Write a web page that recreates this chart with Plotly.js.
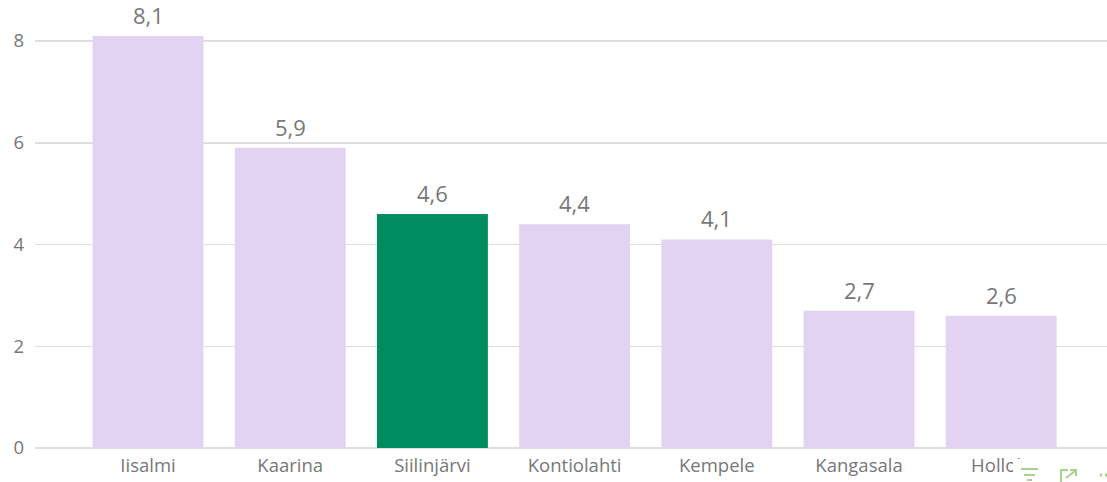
<!DOCTYPE html>
<html><head><meta charset="utf-8">
<script src="https://cdn.plot.ly/plotly-3.0.0.min.js"></script>
<style>html,body{margin:0;padding:0;background:#fff}#c{width:1107px;height:482px}</style></head>
<body><div id="c"></div>
<script>
const categories = ["Iisalmi","Kaarina","Siilinjärvi","Kontiolahti","Kempele","Kangasala","Hollola"];
const values = [8.1,5.9,4.6,4.4,4.1,2.7,2.6];
const barColors = ["#E3D3F3","#E3D3F3","#008C5F","#E3D3F3","#E3D3F3","#E3D3F3","#E3D3F3"];
const yTicks = [0,2,4,6,8];
const font = "'Open Sans', sans-serif";
const icon = "#A9D18E";
const px = v => (v-35)/1072;
const py = v => (448-v)/448;
Plotly.newPlot("c",[{
  type:"bar",x:categories,y:values,width:0.78,
  marker:{color:barColors,line:{width:0}},
  hoverinfo:"none"
}],{
  width:1107,height:482,
  margin:{l:35,r:0,t:0,b:34,pad:0},
  paper_bgcolor:"#fff",plot_bgcolor:"#fff",
  showlegend:false,
  xaxis:{type:"category",range:[-0.795,6.744],showgrid:false,zeroline:false,showline:false,
    ticks:"",ticklabelstandoff:4,tickfont:{family:font,size:18.5,color:"#777777"}},
  yaxis:{range:[0,8.806],tickvals:yTicks,ticktext:yTicks.map(String),showgrid:true,gridcolor:"#DEDEDE",gridwidth:1.5,
    zeroline:true,zerolinecolor:"#DEDEDE",zerolinewidth:1.5,showline:false,ticks:"",ticklabelstandoff:10,
    tickfont:{family:font,size:18.5,color:"#777777"}},
  annotations:categories.map((c,i)=>({
    x:c,y:values[i],xref:"x",yref:"y",showarrow:false,yanchor:"bottom",yshift:4,
    text:values[i].toFixed(1).replace(".",","),
    font:{family:font,size:22,color:"#777777"}
  })),
  shapes:[
    {type:"rect",xref:"paper",yref:"paper",x0:px(1013),x1:px(1050),y0:py(482),y1:py(459),fillcolor:"#fff",line:{width:0},layer:"above"},
    {type:"line",xref:"paper",yref:"paper",x0:px(1021),x1:px(1038),y0:py(469),y1:py(469),line:{color:icon,width:2},layer:"above"},
    {type:"line",xref:"paper",yref:"paper",x0:px(1024),x1:px(1035),y0:py(475),y1:py(475),line:{color:icon,width:2},layer:"above"},
    {type:"line",xref:"paper",yref:"paper",x0:px(1027),x1:px(1032),y0:py(480),y1:py(480),line:{color:icon,width:2},layer:"above"},
    {type:"path",xref:"paper",yref:"paper",path:`M ${px(1061)} ${py(482)} L ${px(1061)} ${py(470)} L ${px(1068)} ${py(470)} M ${px(1066)} ${py(478)} L ${px(1075)} ${py(471)} M ${px(1070)} ${py(470)} L ${px(1076)} ${py(470)} L ${px(1076)} ${py(476)}`,line:{color:icon,width:2},layer:"above"},
    {type:"line",xref:"paper",yref:"paper",x0:px(1100),x1:px(1102),y0:py(475),y1:py(475),line:{color:icon,width:3},layer:"above"},
    {type:"line",xref:"paper",yref:"paper",x0:px(1105),x1:px(1107),y0:py(475),y1:py(475),line:{color:icon,width:3},layer:"above"}
  ]
},{displayModeBar:false,staticPlot:true});
</script></body></html>
